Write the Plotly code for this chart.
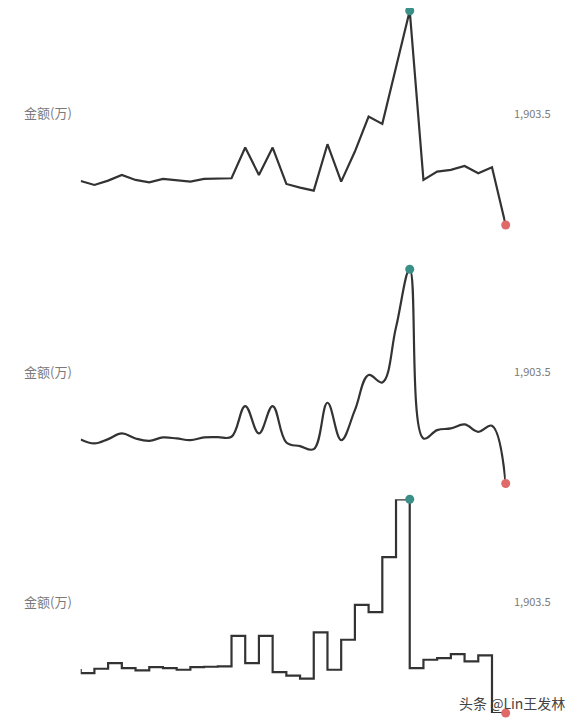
import plotly.graph_objects as go

# values (万), one per period
periods = list(range(1, 33))
amount = [3223.5, 3103.5, 3233.5, 3403.5, 3253.5, 3183.5, 3283.5, 3253.5,
          3203.5, 3283.5, 3293.5, 3303.5, 4223.5, 3403.5, 4223.5, 3133.5,
          3023.5, 2933.5, 4323.5, 3203.5, 4103.5, 5153.5, 4933.5, 6583.5,
          8323.5, 3253.5, 3503.5, 3553.5, 3673.5, 3453.5, 3633.5, 1903.5]
label_left = "金额(万)"
label_right = "1,903.5"
watermark = "头条 @Lin王发林"

# page has an 8px body margin, so the figure is a bit smaller than the window
OFF = 8
W, H = 581 - OFF, 724 - OFF
line_color = "#333333"
max_color = "#3a9088"
min_color = "#e06a6a"
text_color = "#7a7a7a"

# panel vertical extents in window pixels (top, bottom)
panels = [(10.7, 225.0, "linear"), (269.3, 483.5, "spline"), (499.3, 713.0, "vh")]
x_left, x_right = 80.7, 505.7


def px(x):
    return (x - OFF) / W


def py(y):
    return 1 - (y - OFF) / H


fig = go.Figure()

i_max = amount.index(max(amount))
i_min = amount.index(min(amount))

for k, (top, bottom, shape) in enumerate(panels):
    n = k + 1
    xa = "x" if n == 1 else "x%d" % n
    ya = "y" if n == 1 else "y%d" % n
    line = dict(color=line_color, width=2.2, shape=shape)
    if shape == "spline":
        line["smoothing"] = 1.1
    fig.add_trace(go.Scatter(x=periods, y=amount, mode="lines", line=line,
                             xaxis=xa, yaxis=ya, cliponaxis=False,
                             hoverinfo="skip", showlegend=False))
    fig.add_trace(go.Scatter(x=[periods[i_max], periods[i_min]],
                             y=[amount[i_max], amount[i_min]],
                             mode="markers",
                             marker=dict(size=9, color=[max_color, min_color]),
                             xaxis=xa, yaxis=ya, cliponaxis=False,
                             showlegend=False))
    fig.update_layout(**{
        ("xaxis" if n == 1 else "xaxis%d" % n): dict(
            domain=[px(x_left), px(x_right)], range=[periods[0], periods[-1]],
            visible=False, anchor=ya),
        ("yaxis" if n == 1 else "yaxis%d" % n): dict(
            domain=[py(bottom), py(top)], range=[min(amount), max(amount)],
            visible=False, anchor=xa),
    })
    mid = py((top + bottom) / 2 - 5)
    fig.add_annotation(text=label_left, xref="paper", yref="paper",
                       x=px(22), y=mid, xanchor="left", yanchor="middle",
                       showarrow=False, font=dict(size=13, color=text_color))
    fig.add_annotation(text=label_right, xref="paper", yref="paper",
                       x=px(553), y=mid, xanchor="right", yanchor="middle",
                       showarrow=False, font=dict(size=11, color=text_color))

fig.add_annotation(text=watermark, xref="paper", yref="paper",
                   x=px(567), y=py(703), xanchor="right", yanchor="middle",
                   showarrow=False, font=dict(size=14, color="#444444"))

fig.update_layout(
    width=W, height=H,
    margin=dict(l=0, r=0, t=0, b=0),
    paper_bgcolor="white", plot_bgcolor="white",
    font=dict(family="Noto Sans CJK SC, Noto Sans, sans-serif"),
)

fig.write_html("out.html")
